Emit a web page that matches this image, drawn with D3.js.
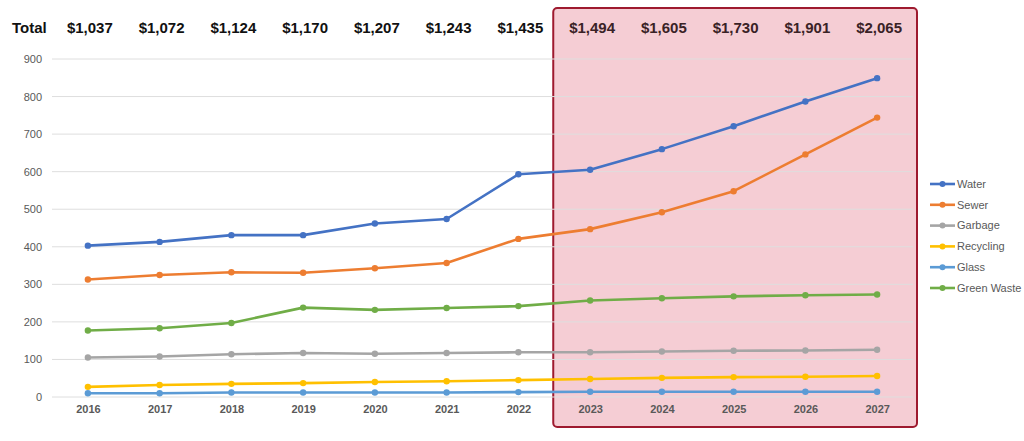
<!DOCTYPE html>
<html>
<head>
<meta charset="utf-8">
<script src="https://cdn.jsdelivr.net/npm/d3@7"></script>
<style>
    html, body { margin: 0; padding: 0; background: #fff; }
    svg { display: block; font-family: Arial, "Liberation Sans", sans-serif; }
</style>
</head>
<body>
<svg id="chart" width="1024" height="441"></svg>
<script>
(function() {
    'use strict';

    var years = ['2016', '2017', '2018', '2019', '2020', '2021', '2022', '2023', '2024', '2025', '2026', '2027'];
    var totals = ['$1,037', '$1,072', '$1,124', '$1,170', '$1,207', '$1,243', '$1,435', '$1,494', '$1,605', '$1,730', '$1,901', '$2,065'];
    var water = [403, 413, 431, 431, 462, 474, 593, 605, 660, 721, 787, 849];
    var sewer = [313, 325, 332, 331, 343, 357, 421, 447, 492, 548, 646, 744];
    var garbage = [105, 108, 114, 117, 115, 117, 119, 119, 121, 123, 124, 126];
    var recycling = [27, 32, 35, 37, 40, 42, 45, 48, 51, 53, 54, 56];
    var glass = [10, 10, 12, 12, 12, 12, 13, 14, 14, 14, 14, 14];
    var greenWaste = [177, 183, 197, 238, 232, 237, 242, 257, 263, 268, 271, 273];
    var yTicks = [0, 100, 200, 300, 400, 500, 600, 700, 800, 900];
    var forecastStart = '2023';

    var series = [
        {name: 'Water', values: water, color: '#4472C4'},
        {name: 'Sewer', values: sewer, color: '#ED7D31'},
        {name: 'Garbage', values: garbage, color: '#A5A5A5'},
        {name: 'Recycling', values: recycling, color: '#FFC000'},
        {name: 'Glass', values: glass, color: '#5B9BD5'},
        {name: 'Green Waste', values: greenWaste, color: '#70AD47'}
    ];
    // keep blue on top
    var drawOrder = series.slice().reverse();

    var svg = d3.select('#chart');
    var left = 52, right = 913, top = 59, bottom = 397;

    var x = d3.scalePoint().domain(years).range([left, right]).padding(0.5);
    var y = d3.scaleLinear().domain([0, 900]).range([bottom, top]);

    //forecast box
    var boxX = x(forecastStart) - x.step() / 2 - 1;
    svg.append('rect')
        .attr('x', boxX)
        .attr('y', 8)
        .attr('width', right + 4 - boxX)
        .attr('height', 419)
        .attr('rx', 4)
        .attr('fill', '#f5cdd4')
        .attr('stroke', '#9e1a2f')
        .attr('stroke-width', 2);

    //gridlines
    svg.append('g')
        .selectAll('line')
        .data(yTicks)
        .enter()
        .append('line')
        .attr('x1', left)
        .attr('x2', right)
        .attr('y1', function(d) { return y(d); })
        .attr('y2', function(d) { return y(d); })
        .attr('stroke', '#dedede')
        .attr('stroke-width', 1);

    //y axis
    var yAxis = svg.append('g')
        .attr('transform', 'translate(' + (left - 10) + ',0)')
        .call(d3.axisLeft(y).tickValues(yTicks).tickSize(0).tickPadding(0));
    yAxis.select('.domain').remove();
    yAxis.selectAll('text')
        .attr('fill', '#595959')
        .attr('font-size', 11)
        .attr('font-family', 'Arial, "Liberation Sans", sans-serif');

    //x axis
    var xAxis = svg.append('g')
        .attr('transform', 'translate(0,' + (bottom + 8) + ')')
        .call(d3.axisBottom(x).tickSize(0).tickPadding(0));
    xAxis.select('.domain').remove();
    xAxis.selectAll('text')
        .attr('fill', '#595959')
        .attr('font-size', 11)
        .attr('font-weight', 'bold')
        .attr('font-family', 'Arial, "Liberation Sans", sans-serif');

    //lines
    var line = d3.line()
        .x(function(d, i) { return x(years[i]); })
        .y(function(d) { return y(d); });

    var groups = svg.append('g')
        .selectAll('g')
        .data(drawOrder)
        .enter()
        .append('g');

    groups.append('path')
        .attr('d', function(d) { return line(d.values); })
        .attr('fill', 'none')
        .attr('stroke', function(d) { return d.color; })
        .attr('stroke-width', 2.6)
        .attr('stroke-linejoin', 'round');

    groups.selectAll('circle')
        .data(function(d) {
            return d.values.map(function(v, i) { return {v: v, i: i, color: d.color}; });
        })
        .enter()
        .append('circle')
        .attr('cx', function(d) { return x(years[d.i]); })
        .attr('cy', function(d) { return y(d.v); })
        .attr('r', 3.2)
        .attr('fill', function(d) { return d.color; });

    //totals row
    svg.append('text')
        .attr('x', 12)
        .attr('y', 33)
        .attr('font-size', 15)
        .attr('font-weight', 'bold')
        .attr('fill', '#111')
        .text('Total');

    svg.append('g')
        .selectAll('text')
        .data(totals)
        .enter()
        .append('text')
        .attr('x', function(d, i) { return x(years[i]) + 2; })
        .attr('y', 33)
        .attr('text-anchor', 'middle')
        .attr('font-size', 15)
        .attr('font-weight', 'bold')
        .attr('fill', function(d, i) { return years[i] >= forecastStart ? '#3a2226' : '#111'; })
        .text(function(d) { return d; });

    //legend
    var legend = svg.append('g')
        .selectAll('g')
        .data(series)
        .enter()
        .append('g')
        .attr('transform', function(d, i) { return 'translate(930,' + (184 + i * 20.8) + ')'; });

    legend.append('line')
        .attr('x1', 0)
        .attr('x2', 25)
        .attr('stroke', function(d) { return d.color; })
        .attr('stroke-width', 2.6);
    legend.append('circle')
        .attr('cx', 12.5)
        .attr('r', 3)
        .attr('fill', function(d) { return d.color; });
    legend.append('text')
        .attr('x', 27)
        .attr('dy', '0.35em')
        .attr('font-size', 11)
        .attr('fill', '#595959')
        .text(function(d) { return d.name; });
})();
</script>
</body>
</html>
